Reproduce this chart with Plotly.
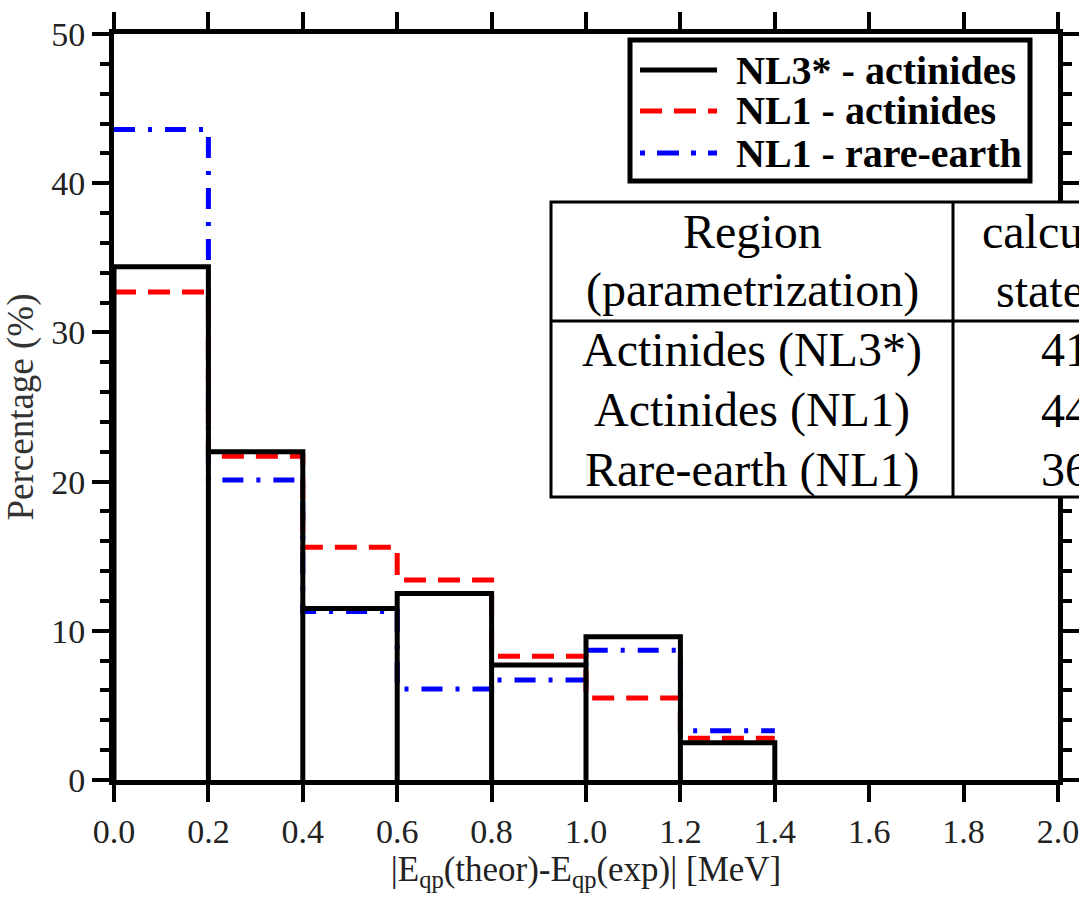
import plotly.graph_objects as go

# ---------------- data ----------------
bin_edges = [0.0, 0.2, 0.4, 0.6, 0.8, 1.0, 1.2, 1.4, 1.6, 1.8, 2.0]
nl3s_actinides = [34.4, 22.0, 11.5, 12.5, 7.7, 9.6, 2.5, 0.0, 0.0, 0.0]
nl1_actinides = [32.7, 21.7, 15.6, 13.4, 8.3, 5.5, 2.8]
nl1_rare_earth = [43.6, 20.1, 11.3, 6.1, 6.7, 8.7, 3.3]

legend_names = ["NL3* - actinides", "NL1 - actinides", "NL1 - rare-earth"]
table_header = ["Region", "(parametrization)"]
table_header2 = ["calculated", "states"]
table_regions = ["Actinides (NL3*)", "Actinides (NL1)", "Rare-earth (NL1)"]
table_counts = ["41", "44", "36"]

x_ticks = [0.0, 0.2, 0.4, 0.6, 0.8, 1.0, 1.2, 1.4, 1.6, 1.8, 2.0]
y_ticks = [0, 10, 20, 30, 40, 50]

# ---------------- geometry ----------------
W, H = 1079, 897
L, R, T, B = 114, 21, 34, 117
PW, PH = W - L - R, H - T - B


def fx(px):
    return (px - L) / PW


def fy(py):
    return (H - B - py) / PH


SERIF = "Liberation Serif, Times New Roman, serif"


def step_xy(vals):
    xs, ys = [], []
    for i, v in enumerate(vals):
        xs += [bin_edges[i], bin_edges[i + 1]]
        ys += [v, v]
    return xs, ys


def bar_outline_xy(vals):
    xs, ys = [], []
    for i, v in enumerate(vals):
        if v <= 0:
            continue
        x0, x1 = bin_edges[i], bin_edges[i + 1]
        xs += [x0, x0, x1, x1]
        ys += [0, v, v, 0]
    return xs, ys


fig = go.Figure()

bx, by = step_xy(nl1_rare_earth)
fig.add_trace(go.Scatter(x=bx, y=by, mode="lines", name=legend_names[2],
                         line=dict(color="#0000ff", width=5, dash="21px,13px,4px,13px"),
                         showlegend=False))
rx, ry = step_xy(nl1_actinides)
fig.add_trace(go.Scatter(x=rx, y=ry, mode="lines", name=legend_names[1],
                         line=dict(color="#ff0000", width=5, dash="22px,12px"),
                         showlegend=False))
kx, ky = bar_outline_xy(nl3s_actinides)
fig.add_trace(go.Scatter(x=kx, y=ky, mode="lines", name=legend_names[0],
                         line=dict(color="black", width=5),
                         showlegend=False))

shapes = []
annotations = []

# ---- custom legend ----
shapes.append(dict(type="rect", xref="paper", yref="paper",
                   x0=fx(630), x1=fx(1030), y0=fy(40), y1=fy(181),
                   line=dict(color="black", width=5), fillcolor="white", layer="above"))
leg_styles = [("black", "solid"), ("#ff0000", "22px,12px"), ("#0000ff", "5px,12px,22px,12px")]
leg_y = [70, 111, 153]
for (c, d), yy, name in zip(leg_styles, leg_y, legend_names):
    shapes.append(dict(type="line", xref="paper", yref="paper",
                       x0=fx(640), x1=fx(717), y0=fy(yy), y1=fy(yy),
                       line=dict(color=c, width=5, dash=d), layer="above"))
    annotations.append(dict(x=fx(734), y=fy(yy), xref="paper", yref="paper",
                            text=name, showarrow=False, xanchor="left", yanchor="middle",
                            font=dict(family=SERIF, size=40, color="black", weight="bold")))

# ---- table ----
shapes.append(dict(type="rect", xref="paper", yref="paper",
                   x0=fx(551), x1=fx(1120), y0=fy(202), y1=fy(497),
                   line=dict(color="black", width=3), fillcolor="white", layer="above"))
shapes.append(dict(type="line", xref="paper", yref="paper",
                   x0=fx(953), x1=fx(953), y0=fy(202), y1=fy(497),
                   line=dict(color="black", width=3), layer="above"))
shapes.append(dict(type="line", xref="paper", yref="paper",
                   x0=fx(551), x1=fx(1120), y0=fy(321), y1=fy(321),
                   line=dict(color="black", width=3), layer="above"))
rows_y = [232, 290, 350, 410, 470]
col1_text = table_header + table_regions
for txt, yy in zip(col1_text, rows_y):
    annotations.append(dict(x=fx(752), y=fy(yy), xref="paper", yref="paper",
                            text=txt, showarrow=False, xanchor="center", yanchor="middle",
                            font=dict(family=SERIF, size=48, color="black")))
col2_text = table_header2 + table_counts
col2_x = [980, 994, 1039, 1039, 1039]
for txt, yy, xx in zip(col2_text, rows_y, col2_x):
    annotations.append(dict(x=fx(xx), y=fy(yy), xref="paper", yref="paper",
                            text=txt, showarrow=False, xanchor="left", yanchor="middle",
                            font=dict(family=SERIF, size=48, color="black")))

axis_common = dict(showline=True, linecolor="black", linewidth=5, mirror="allticks",
                   ticks="outside", tickcolor="black", tickwidth=4, ticklen=17,
                   showgrid=False, zeroline=False, automargin=False,
                   ticklabeloverflow="allow",
                   tickfont=dict(family=SERIF, size=34, color="#222222"))

fig.update_layout(
    width=W, height=H, autosize=False,
    margin=dict(l=L, r=R, t=T, b=B, pad=0, autoexpand=False),
    paper_bgcolor="white", plot_bgcolor="white",
    showlegend=False,
    shapes=shapes, annotations=annotations,
    xaxis=dict(range=[0, 2.0], tickvals=x_ticks, ticktext=[f"{v:.1f}" for v in x_ticks],
               title=dict(text="|E<sub>qp</sub>(theor)-E<sub>qp</sub>(exp)| [MeV]",
                          font=dict(family=SERIF, size=35, color="#222222"), standoff=2),
               **axis_common),
    yaxis=dict(range=[0, 50], tickvals=y_ticks,
               minor=dict(dtick=2, ticks="outside", ticklen=9, tickwidth=4, tickcolor="black"),
               title=dict(text="Percentage (%)",
                          font=dict(family=SERIF, size=37, color="#333333"), standoff=8),
               **axis_common),
)

post = ("document.documentElement.style.overflow='hidden';"
        "document.body.style.overflow='hidden';document.body.style.margin='0';")
fig.write_html("out.html", post_script=post, config={"responsive": False})
